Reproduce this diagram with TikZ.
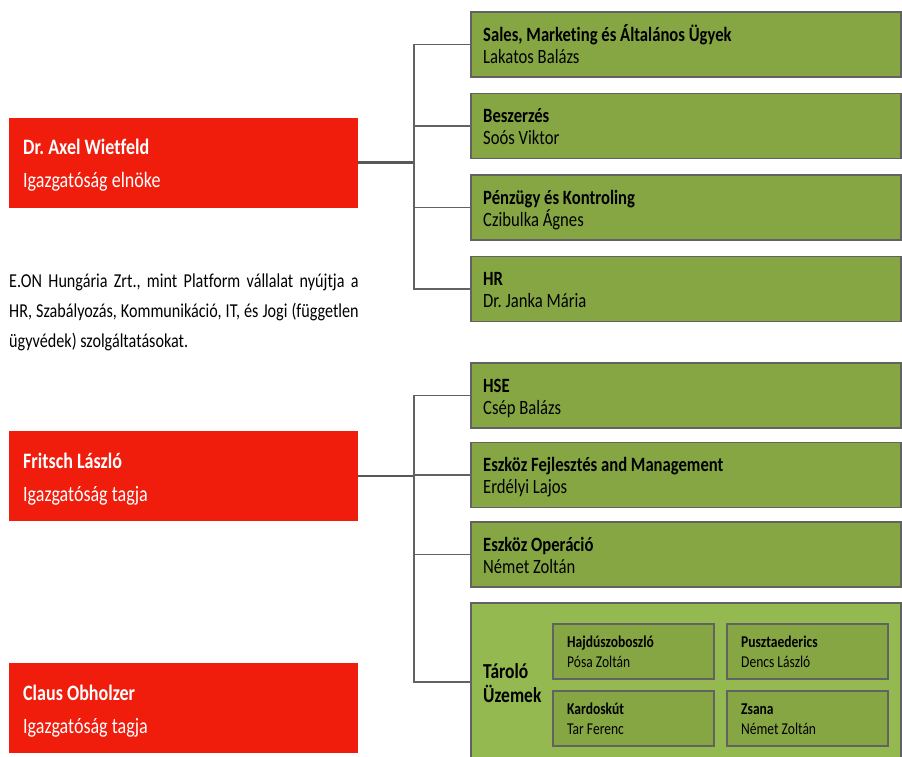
\documentclass[tikz,border=0pt]{standalone}
\usepackage{fontspec}
\setmainfont{Carlito}[FakeStretch=0.82,Ligatures=NoCommon]
\usetikzlibrary{positioning}
\frenchspacing
\definecolor{eonred}{RGB}{240,28,12}
\definecolor{unitgreen}{RGB}{134,166,68}
\definecolor{plantgreen}{RGB}{147,185,80}
\definecolor{boxline}{RGB}{98,98,98}
\tikzstyle{boss} = [fill=eonred,inner sep=0,outer sep=0,minimum width=349.5,minimum height=90,anchor=north west]
\tikzstyle{unit} = [draw=boxline,line width=1.4,fill=unitgreen,inner sep=0,outer sep=0,minimum width=430,minimum height=65]
\tikzstyle{site} = [draw=boxline,line width=1.2,fill=unitgreen,inner sep=0,outer sep=0,minimum width=161,minimum height=55]
\tikzstyle{bosstext} = [text=white,inner sep=0,anchor=base west,align=left,font=\fontsize{22}{33}\selectfont]
\tikzstyle{unittext} = [inner sep=0,anchor=base west,align=left,font=\fontsize{20.3}{22}\selectfont]
\tikzstyle{sitetext} = [inner sep=0,anchor=base west,align=left,font=\fontsize{16.5}{20}\selectfont]
\tikzstyle{tree} = [draw=boxline,line width=1.5]
\tikzstyle{stem} = [draw=boxline!90!black,line width=2.2]

\begin{document}
\begin{tikzpicture}[x=1pt,y=-1pt]
  \useasboundingbox (0,0) rectangle (902,756);
  \coordinate (bus) at (414,0);

  % board members
  \node[boss] (chair) at (8.5,117.5) {};
  \node[bosstext] (chairt) at ([shift={(14.5,70)}]chair.north west)
    {\textbf{Dr. Axel Wietfeld}\\Igazgatóság elnöke};
  \node[boss] (fritsch) at (8.5,431) {};
  \node[bosstext] (fritscht) at ([shift={(14.5,70.5)}]fritsch.north west)
    {\textbf{Fritsch László}\\Igazgatóság tagja};
  \node[boss] (claus) at (8.5,663) {};
  \node[bosstext] (claust) at ([shift={(14.5,70.5)}]claus.north west)
    {\textbf{Claus Obholzer}\\Igazgatóság tagja};

  \node[anchor=base west,text width=349.5,align=justify,inner sep=0,
    font=\fontsize{19.7}{30}\selectfont] (note) at (9,287)
    {E.ON Hungária Zrt., mint Platform vállalat nyújtja a\linebreak
     HR, Szabályozás, Kommunikáció, IT, és Jogi (független\linebreak
     ügyvédek) szolgáltatásokat.};

  % units under the chairman
  \node[unit,anchor=north west] (u1) at (471,12) {};
  \node[unit,below=16.5pt of u1] (u2) {};
  \node[unit,below=16.5pt of u2] (u3) {};
  \node[unit,below=16.5pt of u3] (u4) {};
  \node[unittext] (u1t) at ([shift={(12,51)}]u1.north west)
    {\textbf{Sales, Marketing és Általános Ügyek}\\Lakatos Balázs};
  \node[unittext] (u2t) at ([shift={(12,51)}]u2.north west)
    {\textbf{Beszerzés}\\Soós Viktor};
  \node[unittext] (u3t) at ([shift={(12,51)}]u3.north west)
    {\textbf{Pénzügy és Kontroling}\\Czibulka Ágnes};
  \node[unittext] (u4t) at ([shift={(12,51)}]u4.north west)
    {\textbf{HR}\\Dr. Janka Mária};

  % units under Fritsch
  \node[unit,anchor=north west] (v1) at (471,363) {};
  \node[unit,below=14.5pt of v1] (v2) {};
  \node[unit,below=14.5pt of v2] (v3) {};
  \node[unit,below=16pt of v3,minimum height=158,fill=plantgreen] (v4) {};
  \node[unittext] (v1t) at ([shift={(12,51)}]v1.north west)
    {\textbf{HSE}\\Csép Balázs};
  \node[unittext] (v2t) at ([shift={(12,51)}]v2.north west)
    {\textbf{Eszköz Fejlesztés and Management}\\Erdélyi Lajos};
  \node[unittext] (v3t) at ([shift={(12,51)}]v3.north west)
    {\textbf{Eszköz Operáció}\\Német Zoltán};
  \node[inner sep=0,anchor=base west,align=left,font=\fontsize{21.3}{24}\selectfont\bfseries]
    (v4t) at (483,702) {Tároló\\Üzemek};

  % storage sites
  \node[site,anchor=north west] (s1) at (553,624) {};
  \node[site,right=13pt of s1] (s2) {};
  \node[site,below=12pt of s1] (s3) {};
  \node[site,right=13pt of s3] (s4) {};
  \node[sitetext] (s1t) at ([shift={(14,43)}]s1.north west)
    {\textbf{Hajdúszoboszló}\\Pósa Zoltán};
  \node[sitetext] (s2t) at ([shift={(14,43)}]s2.north west)
    {\textbf{Pusztaederics}\\Dencs László};
  \node[sitetext] (s3t) at ([shift={(14,43)}]s3.north west)
    {\textbf{Kardoskút}\\Tar Ferenc};
  \node[sitetext] (s4t) at ([shift={(14,43)}]s4.north west)
    {\textbf{Zsana}\\Német Zoltán};

  % connectors
  \draw[stem] (chair.east) -- (chair.east -| bus);
  \draw[tree] (u1.west) -- (u1.west -| bus) -- (u4.west -| bus) -- (u4.west);
  \draw[tree] (u2.west) -- (u2.west -| bus);
  \draw[tree] (u3.west) -- (u3.west -| bus);
  \draw[stem] (fritsch.east) -- (fritsch.east -| bus);
  \draw[tree] (v1.west) -- (v1.west -| bus) -- (v4.west -| bus) -- (v4.west);
  \draw[tree] (v2.west) -- (v2.west -| bus);
  \draw[tree] (v3.west) -- (v3.west -| bus);
\end{tikzpicture}
\end{document}
